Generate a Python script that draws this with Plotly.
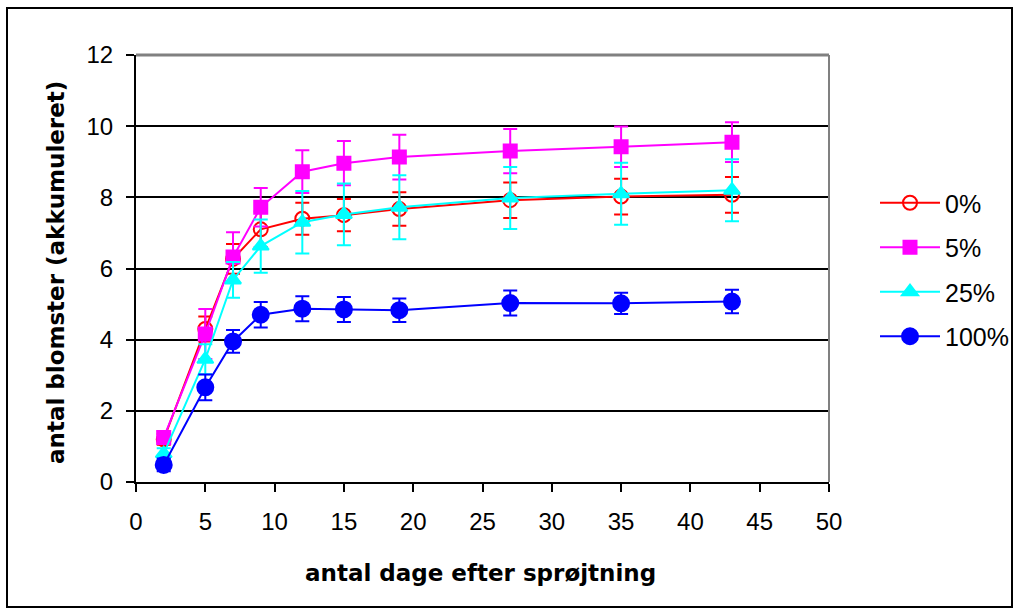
import plotly.graph_objects as go

days = [2, 5, 7, 9, 12, 15, 19, 27, 35, 43]

p0 = [1.2, 4.3, 6.27, 7.1, 7.4, 7.5, 7.67, 7.92, 8.02, 8.07]
e0 = [0.15, 0.35, 0.42, 0.5, 0.45, 0.45, 0.47, 0.5, 0.5, 0.5]

p5 = [1.25, 4.16, 6.32, 7.72, 8.72, 8.96, 9.13, 9.3, 9.42, 9.55]
e5 = [0.17, 0.7, 0.7, 0.54, 0.6, 0.62, 0.63, 0.62, 0.57, 0.56]

p25 = [0.8, 3.45, 5.68, 6.63, 7.3, 7.52, 7.72, 7.98, 8.1, 8.2]
e25 = [0.15, 0.42, 0.5, 0.75, 0.88, 0.87, 0.9, 0.87, 0.87, 0.87]

p100 = [0.48, 2.66, 3.95, 4.7, 4.87, 4.85, 4.83, 5.03, 5.02, 5.07]
e100 = [0.18, 0.36, 0.32, 0.36, 0.35, 0.35, 0.33, 0.35, 0.3, 0.33]

names = ["0%", "5%", "25%", "100%"]
colors = ["#FF0000", "#FF00FF", "#00FFFF", "#0000FF"]
symbols = ["circle-open", "square", "triangle-up", "circle"]
sizes = [14, 13, 14, 16]

x_ticks = [0, 5, 10, 15, 20, 25, 30, 35, 40, 45, 50]
y_ticks = [0, 2, 4, 6, 8, 10, 12]

FONT = "Liberation Sans, Arial, sans-serif"
TFONT = "DejaVu Sans, Liberation Sans, sans-serif"

fig = go.Figure()
for name, vals, errs, col, sym, sz in zip(names, [p0, p5, p25, p100], [e0, e5, e25, e100],
                                          colors, symbols, sizes):
    fig.add_trace(go.Scatter(
        x=days, y=vals, name=name, mode="lines+markers",
        line=dict(color=col, width=2),
        marker=dict(symbol=sym, size=sz, color=col,
                    line=dict(color=col, width=2)),
        error_y=dict(type="data", array=errs, visible=True, color=col,
                     thickness=2, width=7),
        legendgroup=name,
    ))

L, R, T, B = 136, 1019 - 829, 55, 613 - 482
PW, PH = 1019 - L - R, 613 - T - B

def px_x(px):
    return (px - L) / PW

def px_y(py):
    return (613 - B - py) / PH

fig.update_layout(
    width=1019, height=613,
    margin=dict(l=L, r=R, t=T, b=B, pad=0, autoexpand=False),
    paper_bgcolor="white", plot_bgcolor="white",
    font=dict(family=FONT, color="black", size=24),
    showlegend=True,
    legend=dict(x=px_x(875), y=px_y(180), xanchor="left", yanchor="top",
                font=dict(family=FONT, size=25, color="black"),
                tracegroupgap=9, itemwidth=60,
                bgcolor="rgba(0,0,0,0)"),
    xaxis=dict(range=[0, 50], tickvals=x_ticks, ticktext=[str(v) for v in x_ticks],
               showgrid=False, zeroline=False, showline=True, linecolor="black",
               linewidth=2, ticks="outside", ticklen=8, tickwidth=2, tickcolor="black",
               ticklabelstandoff=9, automargin=False,
               tickfont=dict(family=FONT, size=24, color="black")),
    yaxis=dict(range=[0, 12], tickvals=y_ticks, ticktext=[str(v) for v in y_ticks],
               showgrid=True, gridcolor="black", gridwidth=2, zeroline=False,
               showline=True, linecolor="black", linewidth=2,
               ticks="outside", ticklen=8, tickwidth=2, tickcolor="black",
               ticklabelstandoff=8, automargin=False,
               tickfont=dict(family=FONT, size=24, color="black")),
    shapes=[
        dict(type="line", xref="paper", yref="paper", x0=0, x1=1, y0=1, y1=1,
             line=dict(color="#808080", width=3), layer="above"),
        dict(type="line", xref="paper", yref="paper", x0=1, x1=1, y0=0, y1=1,
             line=dict(color="#808080", width=2), layer="above"),
        dict(type="rect", xref="paper", yref="paper",
             x0=px_x(7), x1=px_x(1012), y0=px_y(607), y1=px_y(8),
             line=dict(color="black", width=2), fillcolor="rgba(0,0,0,0)",
             layer="above"),
    ],
    annotations=[
        dict(text="<b>antal dage efter sprøjtning</b>", xref="paper", yref="paper",
             x=px_x(480), y=px_y(573), xanchor="center", yanchor="middle",
             showarrow=False, font=dict(family=TFONT, size=23, color="black")),
        dict(text="<b>antal blomster (akkumuleret)</b>", xref="paper", yref="paper",
             x=px_x(56), y=px_y(273), xanchor="center", yanchor="middle",
             textangle=-90, showarrow=False,
             font=dict(family=TFONT, size=23, color="black")),
    ],
)

fig.write_html("out.html", config={"displayModeBar": False},
               post_script="document.body.style.margin='0';")
